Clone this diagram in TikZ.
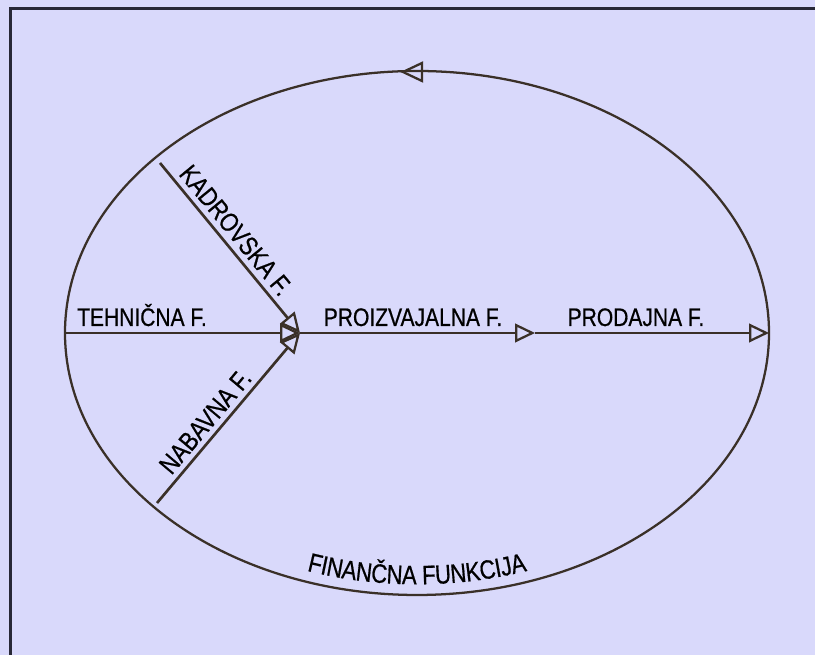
\documentclass[tikz,border=0pt]{standalone}
\usepackage{fontspec}
\setmainfont{Liberation Sans}[FakeStretch=0.83,FakeBold=0.6]
\usetikzlibrary{arrows.meta,decorations.text}
\definecolor{bg}{RGB}{217,217,251}
\definecolor{ln}{RGB}{58,48,40}
\definecolor{frame}{RGB}{40,40,55}
\begin{document}
\begin{tikzpicture}[x=0.75pt,y=0.75pt,
  conn/.style={draw=ln, line width=2pt, -{Triangle[open,length=15pt,width=14pt,line width=1.7pt]}},
  lab/.style={font=\fontsize{19}{21}\selectfont, inner sep=0pt, anchor=base},
  slab/.style={font=\fontsize{19.8}{21}\selectfont, inner sep=3.8pt, anchor=south, sloped}]
\useasboundingbox (0,0) rectangle (815,655);
\fill[bg] (0,0) rectangle (815,655);
\draw[line width=1.7pt, frame] (10.5,-10) -- (10.5,646.5) -- (830,646.5);
\coordinate (c) at (417,322);
\draw[line width=1.7pt, ln] (c) ellipse [x radius=264pt, y radius=196.5pt];
% top direction arrow
\coordinate (ta) at (403,583);
\draw[ln, line width=1.7pt, line join=miter] (ta) -- ++(19,9) -- ++(0,-18) -- cycle;
% points
\coordinate (l) at (65,322);
\coordinate (j) at (300,322);
\coordinate (m) at (535,322);
\coordinate (r) at (769,322);
\coordinate (k) at (160,492);
\coordinate (n) at (157,152);
\draw[conn] (l) -- (j);
\draw[conn] (j) -- (m);
\draw[conn] (m) -- (r);
\draw[conn] (k) -- node[slab, pos=0.455] (kadr) {KADROVSKA F.} (j);
\draw[conn] (n) -- node[slab, pos=0.42] (nab) {NABAVNA F.} (j);
\node[lab] (tehn) at (142,329) {TEHNIČNA F.};
\node[lab] (proiz) at (413,329) {PROIZVAJALNA F.};
\node[lab] (prod) at (636,329) {PRODAJNA F.};
\path[decorate, decoration={text along path, text={|\fontsize{20}{21}\selectfont|FINANČNA FUNKCIJA}, text align=center, raise=8pt}]
  (c) ++(235:264pt and 196.5pt) arc[start angle=235, end angle=305, x radius=264pt, y radius=196.5pt];
\end{tikzpicture}
\end{document}
